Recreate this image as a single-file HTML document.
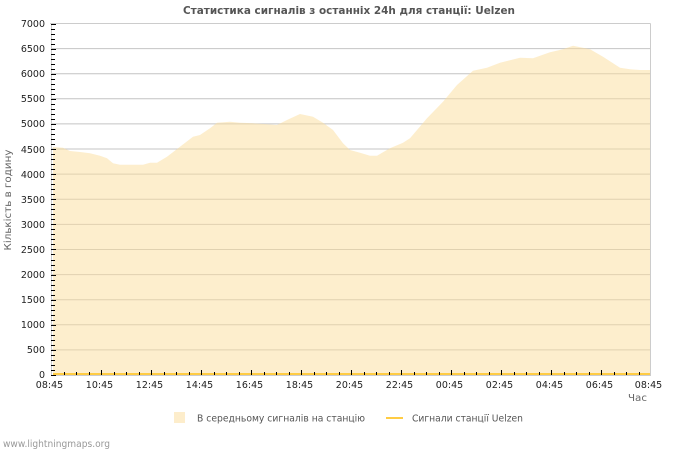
<!DOCTYPE html>
<html><head><meta charset="utf-8"><style>
html,body{margin:0;padding:0;background:#fff;}
svg{display:block;}
text{font-family:"DejaVu Sans","Liberation Sans",sans-serif;}
</style></head><body>
<svg width="700" height="450" viewBox="0 0 700 450" xmlns="http://www.w3.org/2000/svg">
<rect width="700" height="450" fill="#fff"/>
<text x="349" y="14" text-anchor="middle" font-size="11" font-weight="bold" fill="#555" textLength="332" lengthAdjust="spacingAndGlyphs">Статистика сигналів з останніх 24h для станції: Uelzen</text>

<!-- gridlines -->
<g stroke="#c4c4c4" stroke-width="1">
<line x1="51" y1="48.6" x2="650" y2="48.6"/>
<line x1="51" y1="73.7" x2="650" y2="73.7"/>
<line x1="51" y1="98.8" x2="650" y2="98.8"/>
<line x1="51" y1="123.9" x2="650" y2="123.9"/>
<line x1="51" y1="149.0" x2="650" y2="149.0"/>
<line x1="51" y1="174.1" x2="650" y2="174.1"/>
<line x1="51" y1="199.3" x2="650" y2="199.3"/>
<line x1="51" y1="224.4" x2="650" y2="224.4"/>
<line x1="51" y1="249.5" x2="650" y2="249.5"/>
<line x1="51" y1="274.6" x2="650" y2="274.6"/>
<line x1="51" y1="299.7" x2="650" y2="299.7"/>
<line x1="51" y1="324.8" x2="650" y2="324.8"/>
<line x1="51" y1="349.9" x2="650" y2="349.9"/>
</g>

<!-- area -->
<polygon fill="rgb(251,222,155)" fill-opacity="0.5" points="53,375 53,147 63,147.7 70,151 80,152 90,153.3 100,155.7 107,158.3 113,163.3 120,164.7 143,164.7 150,162.7 157,162.7 167,156.7 180,146.7 193,136.7 200,135 210,128.3 217,122.7 230,121.7 240,122.7 253,123.3 267,124.3 277,125 287,120 300,114 313,116.7 323,122.7 333,130 343,143.3 350,150 360,152.7 370,155.7 377,155.7 390,148.3 403,142.7 410,138.3 427,118.3 443,101.7 457,85 473,70.7 487,67.7 500,62.7 520,57.7 533,58.3 550,52.3 563,49.3 573,45.7 590,49.3 603,56.7 620,67.7 630,69.3 640,70 650,70 650,375"/>

<!-- border -->
<g stroke="#cccccc" stroke-width="1" fill="none">
<line x1="50" y1="23.5" x2="650.5" y2="23.5"/>
<line x1="650.5" y1="23.5" x2="650.5" y2="375.5"/>
<line x1="51.5" y1="23.5" x2="51.5" y2="375.5"/>
<line x1="51" y1="375.5" x2="651" y2="375.5"/>
</g>

<!-- station line -->
<line x1="53" y1="374" x2="650" y2="374" stroke="#ffcc44" stroke-width="2"/>

<!-- y ticks -->
<g id="yt" stroke="#000" stroke-width="1"></g>
<!-- x ticks -->
<g id="xt" stroke="#000" stroke-width="1"></g>

<!-- y labels -->
<g font-size="9.5" fill="#222" text-anchor="end">
<text x="45" y="27">7000</text>
<text x="45" y="52">6500</text>
<text x="45" y="77">6000</text>
<text x="45" y="102">5500</text>
<text x="45" y="127">5000</text>
<text x="45" y="153">4500</text>
<text x="45" y="178">4000</text>
<text x="45" y="203">3500</text>
<text x="45" y="228">3000</text>
<text x="45" y="253">2500</text>
<text x="45" y="278">2000</text>
<text x="45" y="303">1500</text>
<text x="45" y="328">1000</text>
<text x="45" y="353">500</text>
<text x="45" y="378">0</text>
</g>

<!-- x labels -->
<g font-size="9.5" fill="#222" text-anchor="middle">
<text x="49.5" y="388">08:45</text>
<text x="99.5" y="388">10:45</text>
<text x="149.5" y="388">12:45</text>
<text x="199.5" y="388">14:45</text>
<text x="249.5" y="388">16:45</text>
<text x="299.5" y="388">18:45</text>
<text x="349.5" y="388">20:45</text>
<text x="399.5" y="388">22:45</text>
<text x="449.5" y="388">00:45</text>
<text x="499.5" y="388">02:45</text>
<text x="549.5" y="388">04:45</text>
<text x="599.5" y="388">06:45</text>
<text x="648.5" y="388">08:45</text>
</g>
<text x="628" y="401" font-size="10" fill="#666" textLength="19" lengthAdjust="spacingAndGlyphs">Час</text>

<text transform="translate(11,200) rotate(-90)" text-anchor="middle" font-size="10" fill="#666" textLength="101" lengthAdjust="spacingAndGlyphs">Кількість в годину</text>

<!-- legend -->
<rect x="174" y="412" width="11" height="11" fill="#fdedcb"/>
<text x="197" y="421.5" font-size="9.5" fill="#555" textLength="168" lengthAdjust="spacingAndGlyphs">В середньому сигналів на станцію</text>
<line x1="386" y1="418" x2="403" y2="418" stroke="#ffcc44" stroke-width="2"/>
<text x="412" y="421.5" font-size="9.5" fill="#555" textLength="111" lengthAdjust="spacingAndGlyphs">Сигнали станції Uelzen</text>

<text x="3" y="447" font-size="9.5" fill="#999" textLength="107" lengthAdjust="spacingAndGlyphs">www.lightningmaps.org</text>

<script>
(function(){
var ns="http://www.w3.org/2000/svg";
var yt=document.getElementById("yt");
for(var i=0;i<=70;i++){
 var y=375-i*351.5/70; y=Math.round(y)+0.5;
 var l=document.createElementNS(ns,"line");
 var major=(i%5===0);
 l.setAttribute("x1",51);l.setAttribute("x2",major?56:55);
 l.setAttribute("y1",y);l.setAttribute("y2",y);
 yt.appendChild(l);
}
var xt=document.getElementById("xt");
for(var j=1;j<48;j++){
 var x=51+j*12.5; x=Math.round(x)+0.5;
 var m=(j%4===0);
 var l2=document.createElementNS(ns,"line");
 l2.setAttribute("x1",x);l2.setAttribute("x2",x);
 l2.setAttribute("y1",375);l2.setAttribute("y2",m?370:372);
 xt.appendChild(l2);
}
})();
</script>
</svg>
</body></html>
